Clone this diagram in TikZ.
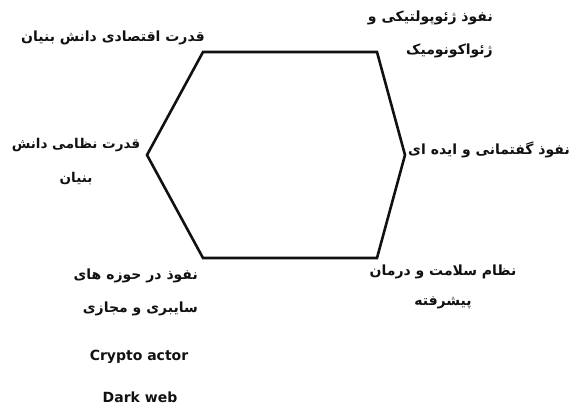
\documentclass[tikz,border=0pt]{standalone}
\usepackage{fontspec}
\setsansfont{DejaVu Sans}
\newfontfamily\arabicfont[Script=Arabic]{DejaVu Sans}
\TeXXeTstate=1
\usetikzlibrary{positioning}
\definecolor{Ink}{HTML}{111111}

\begin{document}
\begin{tikzpicture}[x=1pt,y=-1pt,
  fa/.style={font=\arabicfont\bfseries\fontsize{14}{33}\selectfont,text=Ink,inner sep=0pt,align=center},
  en/.style={font=\sffamily\bfseries\fontsize{14}{16}\selectfont,text=Ink,inner sep=0pt}]
\useasboundingbox (0,0) rectangle (579,408);
% hexagon corners
\coordinate (tl) at (203,52);
\coordinate (tr) at (377,52);
\coordinate (r) at (405,155);
\coordinate (br) at (377,258);
\coordinate (bl) at (203,258);
\coordinate (l) at (147,155);
\draw[Ink,line width=2.6pt,line join=miter] (tl) -- (tr) -- (r) -- (br) -- (bl) -- (l) -- cycle;
% labels
\node[fa,anchor=east] (econ) at (205,38) {\beginR قدرت اقتصادی دانش بنیان\endR};
\node[fa,align=right,anchor=east] (geo) at (493,34) {\beginR نفوذ ژئوپولتیکی و\endR\\\beginR ژئواکونومیک\endR};
\node[fa,font=\arabicfont\bfseries\fontsize{13.5}{34}\selectfont] (mil) at (76,162) {\beginR قدرت نظامی دانش\endR\\\beginR بنیان\endR};
\node[fa] (disc) at (489,150) {\beginR نفوذ گفتمانی و ایده ای\endR};
\node[fa,align=right,anchor=east] (cyber) at (198,292) {\beginR نفوذ در حوزه های\endR\\\beginR سایبری و مجازی\endR};
\node[fa,font=\arabicfont\bfseries\fontsize{14}{30}\selectfont] (health) at (443,287) {\beginR نظام سلامت و درمان\endR\\\beginR پیشرفته\endR};
\node[en] (crypto) at (139,357) {Crypto actor};
\node[en] (dark) at (140,397) {Dark web};
\end{tikzpicture}
\end{document}
